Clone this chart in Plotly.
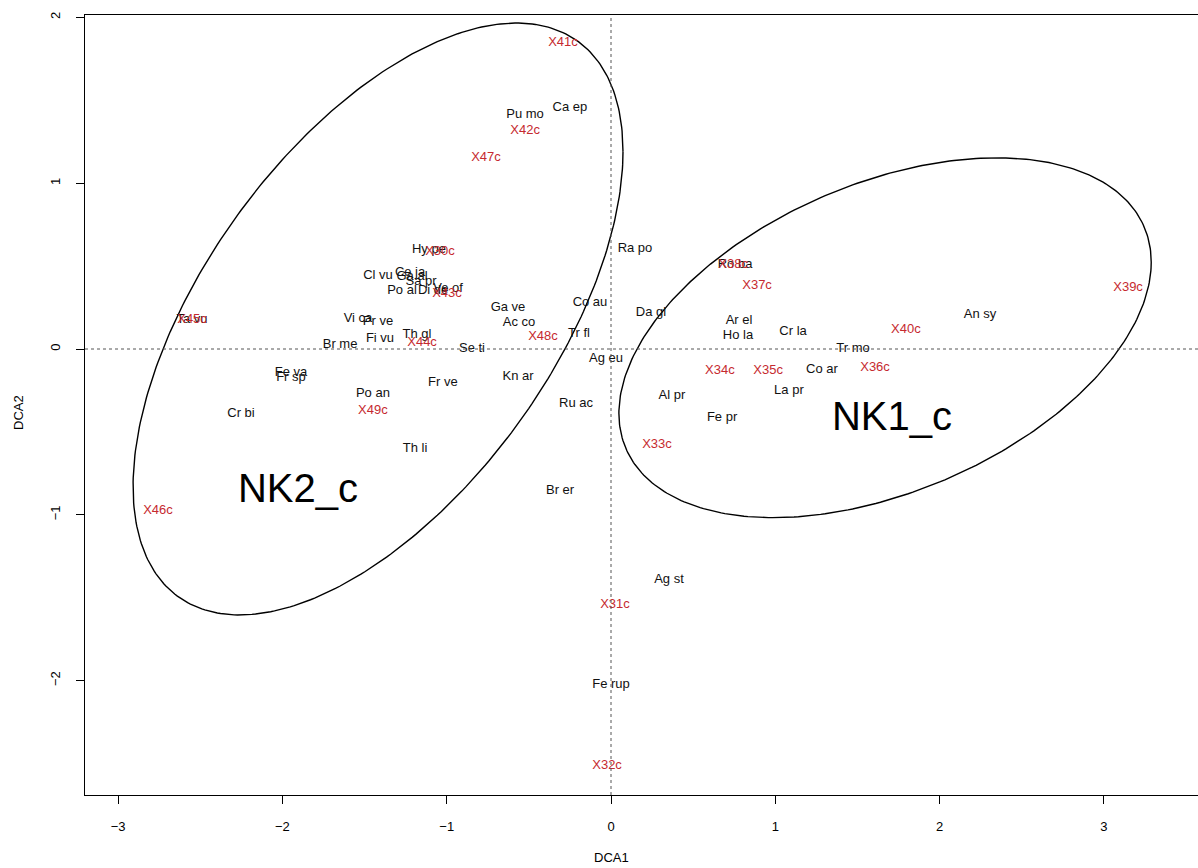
import numpy as np
import plotly.graph_objects as go

# Species scores (black labels)
species = ["Pu mo", "Ca ep", "Hy pe", "Ra po", "Cl vu", "Ce ja", "Ga al", "Sa pr",
           "Po al", "Di de", "Ve of", "Vi ca", "Pr ve", "Fi vu", "Th gl", "Br me",
           "Se ti", "Ga ve", "Ac co", "Co au", "Tr fl", "Ag eu", "Kn ar", "Ru ac",
           "Fr ve", "Fe va", "Fr sp", "Po an", "Cr bi", "Th li", "Ta vu", "Br er",
           "Ag st", "Fe rup", "Da gl", "Ro ba", "Ar el", "Ho la", "Cr la", "Co ar",
           "La pr", "Al pr", "Fe pr", "Tr mo", "An sy"]
species_dca1 = [-0.523, -0.250, -1.108, 0.146, -1.418, -1.223, -1.211, -1.156,
                -1.272, -1.083, -0.992, -1.540, -1.418, -1.406, -1.181, -1.649,
                -0.846, -0.627, -0.560, -0.128, -0.195, -0.030, -0.566, -0.213,
                -1.023, -1.948, -1.948, -1.449, -2.252, -1.193, -2.550, -0.310,
                0.353, 0.000, 0.243, 0.755, 0.779, 0.773, 1.108, 1.284,
                1.083, 0.371, 0.676, 1.473, 2.246]
species_dca2 = [1.411, 1.454, 0.597, 0.603, 0.440, 0.458, 0.434, 0.404,
                0.350, 0.350, 0.362, 0.181, 0.163, 0.060, 0.084, 0.024,
                0.003, 0.247, 0.157, 0.277, 0.090, -0.060, -0.169, -0.332,
                -0.205, -0.145, -0.175, -0.271, -0.392, -0.603, 0.175, -0.856,
                -1.393, -2.027, 0.217, 0.507, 0.169, 0.078, 0.103, -0.127,
                -0.253, -0.283, -0.416, 0.000, 0.205]

# Site scores (red labels)
sites = ["X30c", "X31c", "X32c", "X33c", "X34c", "X35c", "X36c", "X37c", "X38c",
         "X39c", "X40c", "X41c", "X42c", "X43c", "X44c", "X45c", "X46c", "X47c",
         "X48c", "X49c"]
sites_dca1 = [-1.041, 0.024, -0.024, 0.280, 0.663, 0.956, 1.607, 0.889, 0.743,
              3.147, 1.795, -0.292, -0.523, -0.998, -1.150, -2.550, -2.757, -0.761,
              -0.414, -1.449]
sites_dca2 = [0.585, -1.544, -2.515, -0.579, -0.133, -0.133, -0.115, 0.380, 0.507,
              0.368, 0.115, 1.846, 1.315, 0.332, 0.036, 0.175, -0.977, 1.152,
              0.072, -0.374]

# Group ellipses: name, centre, sd x, sd y, correlation, label position
groups = ["NK1_c", "NK2_c"]
ell_cx = [1.668, -1.418]
ell_cy = [0.068, 0.181]
ell_sx = [1.620, 1.491]
ell_sy = [1.085, 1.785]
ell_rho = [0.42, 0.5655]
group_lab_x = [1.710, -1.905]
group_lab_y = [-0.428, -0.862]

x_ticks = [-3, -2, -1, 0, 1, 2, 3]
y_ticks = [-2, -1, 0, 1, 2]

FONT = "Liberation Sans, Arial, Helvetica, sans-serif"
RED = "#c62a2f"

fig = go.Figure()

t = np.linspace(0, 2 * np.pi, 361)
for cx, cy, sx, sy, rho in zip(ell_cx, ell_cy, ell_sx, ell_sy, ell_rho):
    ex = cx + sx * np.cos(t)
    ey = cy + rho * sy * np.cos(t) + sy * np.sqrt(1 - rho ** 2) * np.sin(t)
    fig.add_trace(go.Scatter(x=ex, y=ey, mode="lines",
                             line=dict(color="black", width=1.4),
                             hoverinfo="skip", showlegend=False))

fig.add_trace(go.Scatter(x=species_dca1, y=species_dca2, mode="text", text=species,
                         textposition="middle center",
                         textfont=dict(family=FONT, size=13, color="#111111"),
                         showlegend=False))
fig.add_trace(go.Scatter(x=sites_dca1, y=sites_dca2, mode="text", text=sites,
                         textposition="middle center",
                         textfont=dict(family=FONT, size=13, color=RED),
                         showlegend=False))
fig.add_trace(go.Scatter(x=group_lab_x, y=group_lab_y, mode="text", text=groups,
                         textposition="middle center",
                         textfont=dict(family=FONT, size=40, color="black"),
                         showlegend=False))

fig.add_hline(y=0, line=dict(color="#555555", width=1, dash="dot"))
fig.add_vline(x=0, line=dict(color="#555555", width=1, dash="dot"))

fig.update_layout(
    width=1198, height=868,
    margin=dict(l=85, r=0, t=15, b=73),
    paper_bgcolor="white", plot_bgcolor="white",
    font=dict(family=FONT, size=12, color="black"),
    xaxis=dict(range=[-3.2015, 3.5727], tickvals=x_ticks, ticks="outside", ticklen=8,
               tickcolor="black", showline=True, mirror=True, linecolor="black",
               linewidth=1, showgrid=False, zeroline=False,
               ticklabelstandoff=11, tickfont=dict(size=13)),
    yaxis=dict(range=[-2.690, 2.0145], tickvals=y_ticks, ticks="outside", ticklen=8,
               tickcolor="black", showline=True, mirror=False, linecolor="black",
               linewidth=1, showgrid=False, zeroline=False, tickangle=-90,
               ticklabelstandoff=11, tickfont=dict(size=13)),
    annotations=[
        dict(text="DCA1", xref="paper", yref="paper", x=(611 - 85) / 1113,
             y=(795 - 857) / 780, xanchor="center", yanchor="middle",
             showarrow=False, font=dict(size=13)),
        dict(text="DCA2", xref="paper", yref="paper", x=(18 - 85) / 1113,
             y=(795 - 413) / 780, xanchor="center", yanchor="middle",
             textangle=-90, showarrow=False, font=dict(size=13)),
    ],
)

fig.write_html("out.html")
